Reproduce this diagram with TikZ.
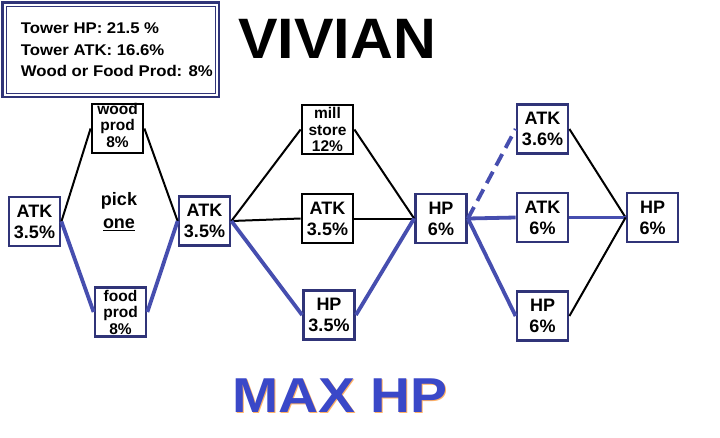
\documentclass[tikz,border=0pt]{standalone}
\usepackage{fontspec}
\setmainfont{Liberation Sans}
\definecolor{navy}{RGB}{48,52,120}
\definecolor{bline}{RGB}{70,78,175}
\definecolor{maxblue}{RGB}{58,72,200}
\begin{document}
\begin{tikzpicture}[x=1pt,y=-1pt,
  box/.style={draw=black, line width=2.8pt, fill=white, minimum width=51pt, minimum height=49pt, inner sep=0pt, align=center, font=\fontsize{18}{21}\selectfont\bfseries},
  bbox/.style={box, draw=navy},
  small/.style={font=\fontsize{15.5}{16.5}\selectfont\bfseries},
  bl/.style={line width=2pt, black},
  bu/.style={line width=3.8pt, bline},
  info/.style={anchor=west, font=\fontsize{15.5}{18}\selectfont\bfseries, xscale=1.08, transform shape},
]
\useasboundingbox (0,0) rectangle (720,437);
\fill[white] (0,0) rectangle (720,437);
% info box
\draw[navy, line width=2.6pt] (2.5,2.5) rectangle (219,97);
\draw[navy, line width=0.8pt] (6,6) rectangle (215.5,93.5);
\node[info] (l1) at (17,28) {Tower HP: 21.5 \%};
\node[info] (l2) at (17,50) {Tower ATK: 16.6\%};
\node[info] (l3) at (17,71) {Wood or Food Prod: 8\%};
% titles
\node[font=\fontsize{57}{60}\selectfont\bfseries, xscale=1.04, transform shape] (title) at (337,39) {VIVIAN};
\node[font=\fontsize{49}{52}\selectfont\bfseries, text=orange!60, xscale=1.13, transform shape] (maxs) at (341,397) {MAX HP};
\node[font=\fontsize{49}{52}\selectfont\bfseries, text=maxblue, xscale=1.13, transform shape] (max) at (340,396) {MAX HP};
% nodes
\node[bbox] (a1) at (34.5,221.5) {ATK\\3.5\%};
\node[box] (wood) at (117.5,128.5) {};
\node[small, align=center, inner sep=0pt] (woodt) at (117.5,125) {wood\\prod\\8\%};
\node[bbox, small] (food) at (120.5,312) {food\\prod\\8\%};
\node[font=\fontsize{18}{23}\selectfont\bfseries, align=center] (pick) at (119,212) {pick\\\underline{one}};
\node[bbox] (a2) at (204.5,221) {ATK\\3.5\%};
\node[box, small] (mill) at (327.5,129.5) {mill\\store\\12\%};
\node[box] (a3) at (327.5,218.5) {ATK\\3.5\%};
\node[bbox] (h1) at (329,315) {HP\\3.5\%};
\node[bbox] (h2) at (441,218.5) {HP\\6\%};
\node[bbox] (a4) at (542.5,129) {ATK\\3.6\%};
\node[bbox] (a5) at (542.5,217.5) {ATK\\6\%};
\node[bbox] (h3) at (542.5,316) {HP\\6\%};
\node[bbox] (h4) at (652.5,217.5) {HP\\6\%};
% connectors
\draw[bl] (a1.east) -- (wood.west);
\draw[bu] (a1.east) -- (food.west);
\draw[bl] (wood.east) -- (a2.west);
\draw[bu] (food.east) -- (a2.west);
\draw[bl] (a2.east) -- (mill.west);
\draw[bl] (a2.east) -- (a3.west);
\draw[bu] (a2.east) -- (h1.west);
\draw[bl] (mill.east) -- (h2.west);
\draw[bl] (a3.east) -- (h2.west);
\draw[bu] (h1.east) -- (h2.west);
\draw[bu, dash pattern=on 13pt off 7pt] (h2.east) -- (a4.west);
\draw[bu] (h2.east) -- (a5.west);
\draw[bu] (h2.east) -- (h3.west);
\draw[bl] (a4.east) -- (h4.west);
\draw[bu] (a5.east) -- (h4.west);
\draw[bl] (h3.east) -- (h4.west);
\end{tikzpicture}
\end{document}
